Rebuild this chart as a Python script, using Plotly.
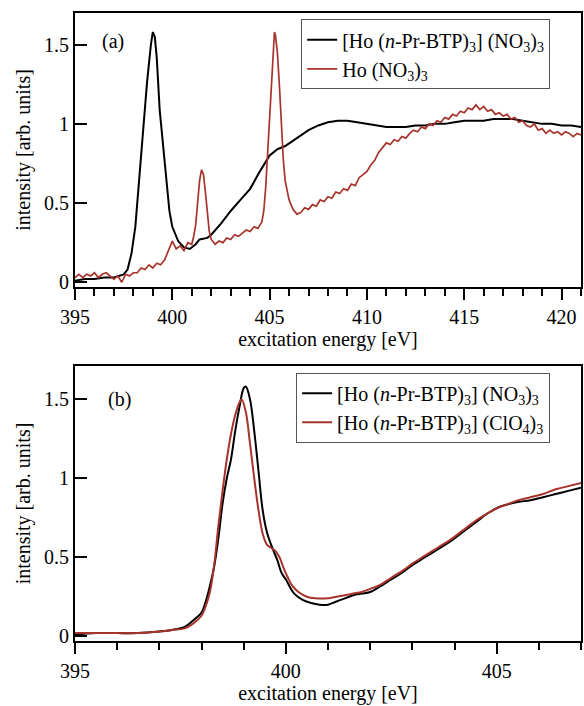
import plotly.graph_objects as go

# ---------------- data: panel (a) ----------------
a_black_x = [395.0, 395.5, 396.0, 396.5, 397.0, 397.3, 397.5, 397.7, 397.9, 398.1, 398.3, 398.5, 398.7,
             398.9, 399.0, 399.1, 399.2, 399.35, 399.5, 399.7, 399.85, 400.0, 400.3, 400.6, 400.9, 401.2,
             401.4, 401.8, 402.0, 402.5, 403.0, 403.5, 404.0, 404.5, 405.0, 405.4, 405.8, 406.4, 407.0,
             407.5, 408.0, 408.5, 409.0, 409.5, 410.0, 410.5, 411.0, 411.5, 412.0, 412.5, 413.0, 413.5,
             414.0, 414.5, 415.0, 415.5, 416.0, 416.5, 417.0, 417.5, 418.0, 418.5, 419.0, 419.5, 420.0,
             420.5, 421.0]
a_black_y = [0.01, 0.02, 0.02, 0.03, 0.03, 0.04, 0.05, 0.08, 0.18, 0.35, 0.65, 0.94, 1.26,
             1.50, 1.58, 1.55, 1.42, 1.09, 0.90, 0.60, 0.45, 0.35, 0.26, 0.22, 0.21, 0.24,
             0.27, 0.28, 0.30, 0.37, 0.45, 0.52, 0.59, 0.70, 0.80, 0.84, 0.86, 0.91, 0.96,
             0.99, 1.01, 1.02, 1.02, 1.01, 1.00, 0.99, 0.98, 0.98, 0.98, 0.99, 0.99, 1.00,
             1.00, 1.01, 1.02, 1.02, 1.02, 1.03, 1.03, 1.03, 1.02, 1.01, 1.00, 1.00, 0.99,
             0.99, 0.98]

a_red_x = [395.0, 395.2, 395.4, 395.6, 395.8, 396.0, 396.2, 396.4, 396.6, 396.8, 397.0, 397.2, 397.4,
           397.6, 397.8, 398.0, 398.2, 398.4, 398.6, 398.8, 399.0, 399.2, 399.4, 399.6, 399.8, 400.0,
           400.2, 400.4, 400.6, 400.8, 401.0, 401.1, 401.2, 401.3, 401.4, 401.5, 401.6, 401.7, 401.8,
           401.9, 402.0, 402.2, 402.4, 402.6, 402.8, 403.0, 403.2, 403.4, 403.6, 403.8, 404.0, 404.2,
           404.4, 404.6, 404.7, 404.8, 404.9, 405.0, 405.1, 405.2, 405.25, 405.3, 405.4, 405.5, 405.6,
           405.7, 405.8, 405.9, 406.0, 406.2, 406.4, 406.6, 406.8, 407.0, 407.2, 407.4, 407.6, 407.8,
           408.0, 408.2, 408.4, 408.6, 408.8, 409.0, 409.2, 409.4, 409.6, 409.8, 410.0, 410.2, 410.4,
           410.6, 410.8, 411.0, 411.2, 411.4, 411.6, 411.8, 412.0, 412.2, 412.4, 412.6, 412.8, 413.0,
           413.2, 413.4, 413.6, 413.8, 414.0, 414.2, 414.4, 414.6, 414.8, 415.0, 415.2, 415.4, 415.6,
           415.8, 416.0, 416.2, 416.4, 416.6, 416.8, 417.0, 417.2, 417.4, 417.6, 417.8, 418.0, 418.2,
           418.4, 418.6, 418.8, 419.0, 419.2, 419.4, 419.6, 419.8, 420.0, 420.2, 420.4, 420.6, 420.8,
           421.0]
a_red_y = [0.03, 0.05, 0.03, 0.05, 0.04, 0.06, 0.03, 0.05, 0.06, 0.04, 0.02, 0.04, 0.00,
           0.05, 0.04, 0.06, 0.06, 0.09, 0.08, 0.11, 0.09, 0.12, 0.11, 0.14, 0.20, 0.26,
           0.21, 0.23, 0.20, 0.25, 0.24, 0.29, 0.36, 0.50, 0.64, 0.71, 0.68, 0.57, 0.42,
           0.32, 0.27, 0.24, 0.26, 0.25, 0.28, 0.27, 0.30, 0.29, 0.31, 0.33, 0.32, 0.35,
           0.34, 0.38, 0.45, 0.60, 0.82, 1.05, 1.30, 1.52, 1.58, 1.56, 1.45, 1.25, 1.00,
           0.78, 0.64, 0.58, 0.52, 0.46, 0.43, 0.44, 0.47, 0.46, 0.49, 0.48, 0.52, 0.51,
           0.54, 0.53, 0.57, 0.56, 0.59, 0.58, 0.62, 0.61, 0.66, 0.68, 0.70, 0.74, 0.77,
           0.82, 0.85, 0.88, 0.87, 0.90, 0.89, 0.92, 0.91, 0.94, 0.96, 0.95, 0.98, 0.97,
           1.00, 0.99, 1.02, 1.01, 1.04, 1.03, 1.06, 1.05, 1.08, 1.07, 1.10, 1.09, 1.12,
           1.09, 1.11, 1.08, 1.09, 1.06, 1.07, 1.05, 1.06, 1.03, 1.04, 1.01, 1.02, 0.99,
           0.98, 1.00, 0.96, 0.97, 0.94, 0.96, 0.94, 0.95, 0.93, 0.95, 0.94, 0.92, 0.94,
           0.93]

# ---------------- data: panel (b) ----------------
b_black_x = [395.0, 395.5, 396.0, 396.5, 397.0, 397.3, 397.6, 397.8, 398.0, 398.1, 398.2, 398.3, 398.4,
             398.5, 398.6, 398.7, 398.8, 398.9, 399.0, 399.05, 399.15, 399.25, 399.35, 399.45, 399.55,
             399.65, 399.8, 399.9, 400.0, 400.1, 400.2, 400.4, 400.6, 400.8, 401.0, 401.2, 401.4, 401.6,
             401.8, 402.0, 402.2, 402.5, 402.8, 403.0, 403.3, 403.6, 403.9, 404.2, 404.5, 404.8, 405.0,
             405.2, 405.5, 405.8, 406.1, 406.4, 406.7, 407.0]
b_black_y = [0.01, 0.02, 0.02, 0.02, 0.03, 0.04, 0.06, 0.10, 0.15, 0.22, 0.32, 0.44, 0.62,
             0.84, 1.00, 1.12, 1.30, 1.45, 1.57, 1.58, 1.50, 1.30, 1.05, 0.80, 0.66,
             0.58, 0.48, 0.40, 0.36, 0.31, 0.27, 0.23, 0.21, 0.20, 0.20, 0.22, 0.24, 0.26,
             0.27, 0.28, 0.31, 0.36, 0.41, 0.45, 0.50, 0.55, 0.60, 0.66, 0.72, 0.78, 0.81,
             0.83, 0.85, 0.86, 0.88, 0.90, 0.92, 0.94]

b_red_x = [395.0, 395.5, 396.0, 396.5, 397.0, 397.3, 397.6, 397.8, 398.0, 398.1, 398.2, 398.3, 398.4,
           398.5, 398.6, 398.7, 398.8, 398.9, 398.95, 399.05, 399.15, 399.25, 399.35, 399.45, 399.55,
           399.65, 399.75, 399.85, 399.95, 400.05, 400.15, 400.3, 400.5, 400.7, 401.0, 401.2, 401.4,
           401.6, 401.8, 402.0, 402.2, 402.5, 402.8, 403.0, 403.3, 403.6, 403.9, 404.2, 404.5, 404.8,
           405.0, 405.2, 405.5, 405.8, 406.1, 406.4, 406.7, 407.0]
b_red_y = [0.02, 0.02, 0.02, 0.02, 0.03, 0.04, 0.05, 0.08, 0.13, 0.19, 0.28, 0.45, 0.70,
           0.92, 1.12, 1.28, 1.40, 1.48, 1.50, 1.42, 1.22, 1.00, 0.80, 0.65, 0.58,
           0.56, 0.54, 0.50, 0.43, 0.37, 0.32, 0.28, 0.25, 0.24, 0.24, 0.25, 0.26,
           0.27, 0.28, 0.30, 0.32, 0.37, 0.42, 0.46, 0.51, 0.56, 0.61, 0.67, 0.73, 0.78,
           0.81, 0.83, 0.86, 0.88, 0.90, 0.93, 0.95, 0.97]

name_a1 = "[Ho (<i>n</i>-Pr-BTP)<sub>3</sub>] (NO<sub>3</sub>)<sub>3</sub>"
name_a2 = "Ho (NO<sub>3</sub>)<sub>3</sub>"
name_b1 = "[Ho (<i>n</i>-Pr-BTP)<sub>3</sub>] (NO<sub>3</sub>)<sub>3</sub>"
name_b2 = "[Ho (<i>n</i>-Pr-BTP)<sub>3</sub>] (ClO<sub>4</sub>)<sub>3</sub>"

y_tickvals = [0, 0.5, 1, 1.5]
y_ticktext = ["0", "0.5", "1", "1.5"]

BLACK = "#000000"
RED = "#a8332b"
FONT = "Liberation Serif"

fig = go.Figure()
fig.add_trace(go.Scatter(x=a_black_x, y=a_black_y, mode="lines", name=name_a1,
                         line=dict(color=BLACK, width=2), xaxis="x", yaxis="y", legend="legend"))
fig.add_trace(go.Scatter(x=a_red_x, y=a_red_y, mode="lines", name=name_a2,
                         line=dict(color=RED, width=1.7), xaxis="x", yaxis="y", legend="legend"))
fig.add_trace(go.Scatter(x=b_black_x, y=b_black_y, mode="lines", name=name_b1,
                         line=dict(color=BLACK, width=2, shape="spline"), xaxis="x2", yaxis="y2", legend="legend2"))
fig.add_trace(go.Scatter(x=b_red_x, y=b_red_y, mode="lines", name=name_b2,
                         line=dict(color=RED, width=2, shape="spline"), xaxis="x2", yaxis="y2", legend="legend2"))

xcommon = dict(showline=True, linecolor="black", linewidth=2, mirror=True,
               ticks="outside", ticklen=11, tickwidth=2, tickcolor="black",
               showgrid=False, zeroline=False,
               tickfont=dict(family=FONT, size=20, color="black"),
               title=dict(text="excitation energy [eV]", font=dict(family=FONT, size=20, color="black"),
                          standoff=4),
               minor=dict(ticks="outside", ticklen=7, tickwidth=2, tickcolor="black", dtick=1, showgrid=False))
ycommon = dict(showline=True, linecolor="black", linewidth=2, mirror=True,
               ticks="inside", ticklen=12, tickwidth=2, tickcolor="black",
               showgrid=False, zeroline=False,
               tickvals=y_tickvals, ticktext=y_ticktext,
               tickfont=dict(family=FONT, size=20, color="black"),
               title=dict(text="intensity [arb. units]", font=dict(family=FONT, size=20, color="black"),
                          standoff=8))

legcommon = dict(bgcolor="white", bordercolor="#555555", borderwidth=1,
                 font=dict(family=FONT, size=20, color="black"),
                 xanchor="left", yanchor="top", tracegroupgap=0)

fig.update_layout(
    width=584, height=706,
    margin=dict(l=75, r=1, t=13, b=65),
    paper_bgcolor="white", plot_bgcolor="white",
    font=dict(family=FONT, size=20, color="black"),
    xaxis=dict(xcommon, domain=[0, 1], range=[395, 421], dtick=5, anchor="y"),
    yaxis=dict(ycommon, domain=[0.5637, 1.0], range=[-0.03, 1.70], anchor="x"),
    xaxis2=dict(xcommon, domain=[0, 1], range=[395, 407], dtick=5, anchor="y2"),
    yaxis2=dict(ycommon, domain=[0.0, 0.4379], range=[-0.03, 1.71], anchor="x2"),
    legend=dict(legcommon, x=0.447, y=0.99),
    legend2=dict(legcommon, x=0.437, y=0.427),
    showlegend=True,
    annotations=[
        dict(text="(a)", xref="paper", yref="paper", x=0.05, y=0.955, showarrow=False,
             xanchor="left", yanchor="middle", font=dict(family=FONT, size=20, color="black")),
        dict(text="(b)", xref="paper", yref="paper", x=0.061, y=0.385, showarrow=False,
             xanchor="left", yanchor="middle", font=dict(family=FONT, size=20, color="black")),
    ],
)

fig.write_html("out.html", config={"displayModeBar": False},
               post_script="document.body.style.margin='0';document.body.style.overflow='hidden';")
